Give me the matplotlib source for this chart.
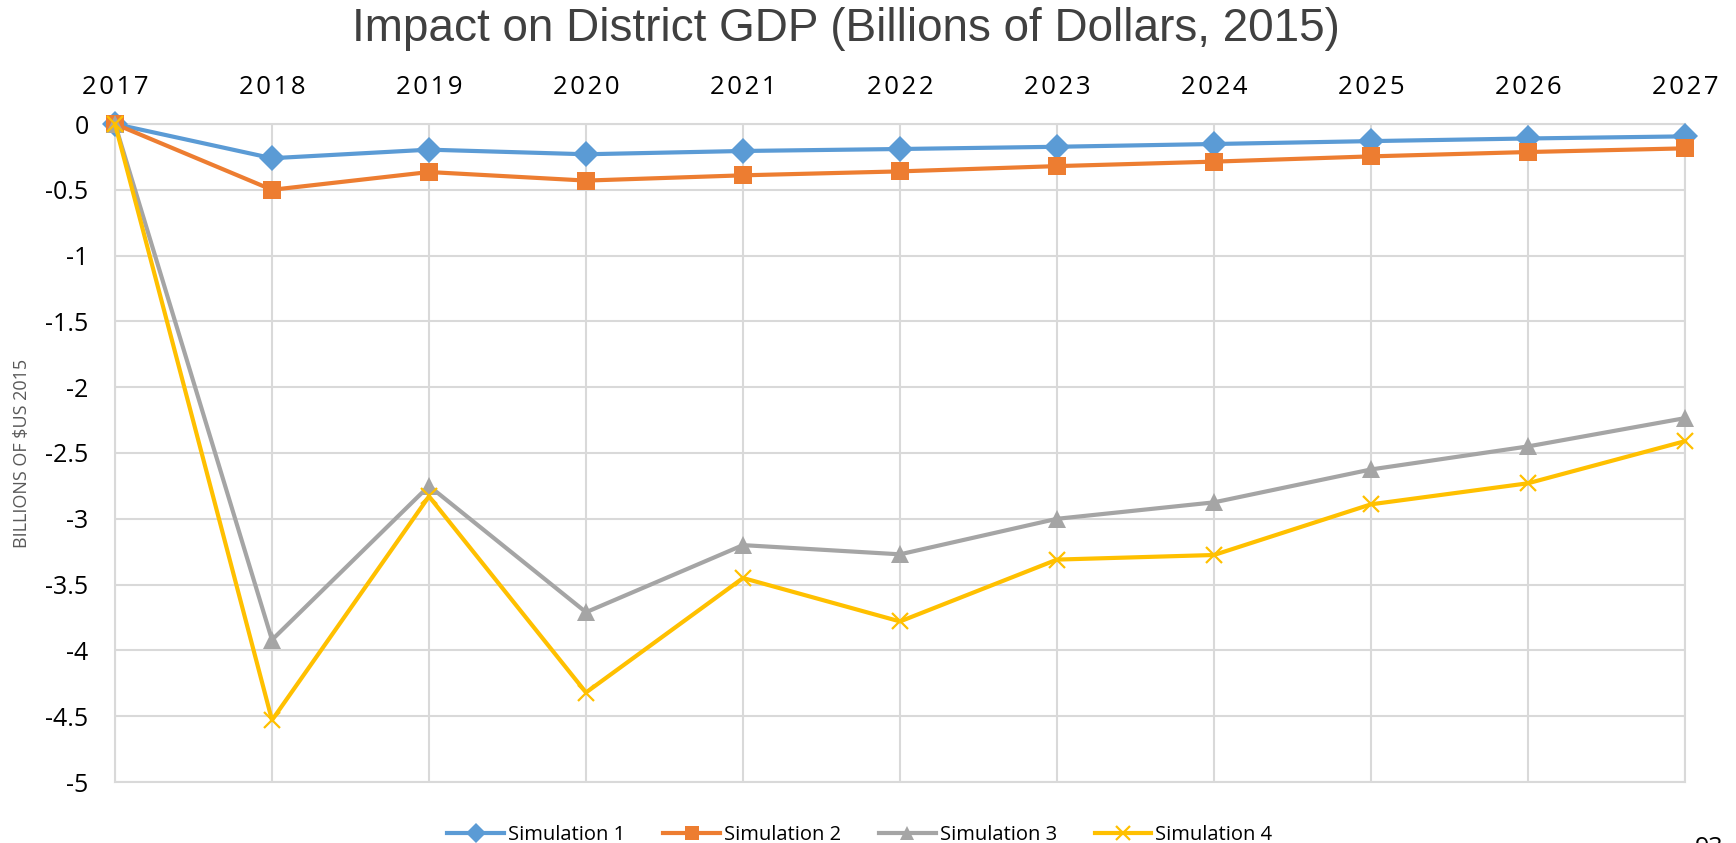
import matplotlib
matplotlib.use("Agg")
import matplotlib.pyplot as plt

years = [2017, 2018, 2019, 2020, 2021, 2022, 2023, 2024, 2025, 2026, 2027]
sim1 = [0, -0.26, -0.195, -0.23, -0.205, -0.19, -0.173, -0.152, -0.13, -0.11, -0.094]
sim2 = [0, -0.50, -0.365, -0.43, -0.39, -0.36, -0.32, -0.286, -0.246, -0.213, -0.185]
sim3 = [0, -3.92, -2.75, -3.71, -3.20, -3.27, -3.00, -2.875, -2.625, -2.45, -2.235]
sim4 = [0, -4.53, -2.83, -4.32, -3.45, -3.78, -3.31, -3.275, -2.89, -2.73, -2.41]
series_names = ["Simulation 1", "Simulation 2", "Simulation 3", "Simulation 4"]
yticks = [0, -0.5, -1, -1.5, -2, -2.5, -3, -3.5, -4, -4.5, -5]
ytick_labels = ["0", "-0.5", "-1", "-1.5", "-2", "-2.5", "-3", "-3.5", "-4", "-4.5", "-5"]
title = "Impact on District GDP (Billions of Dollars, 2015)"
ylabel = "BILLIONS OF $US 2015"

FONT = ["Open Sans", "DejaVu Sans"]
plt.rcParams["font.family"] = FONT

W, H = 1736, 843
fig = plt.figure(figsize=(W / 100, H / 100), dpi=100)
ax = fig.add_axes([115 / W, 1 - 782 / H, 1570 / W, 658 / H])

colors = ["#5B9BD5", "#ED7D31", "#A5A5A5", "#FFC000"]
markers = ["D", "s", "^", "x"]
msizes = [13, 13, 13, 12]
data = [sim1, sim2, sim3, sim4]
for i, (vals, name) in enumerate(zip(data, series_names)):
    ax.plot(years, vals, color=colors[i], lw=3.0, marker=markers[i],
            ms=msizes[i], mew=1.6 if markers[i] == "x" else 0,
            mec=colors[i], mfc=colors[i], label=name, zorder=3 + i,
            clip_on=False)

ax.set_xlim(2017, 2027)
ax.set_ylim(-5, 0)
ax.set_xticks(years)
ax.set_xticklabels(["\u200a".join(str(y)) for y in years])
ax.set_yticks(yticks)
ax.set_yticklabels(ytick_labels)
ax.xaxis.tick_top()
ax.tick_params(axis="x", length=0, pad=17, labelsize=18.5, labelcolor="#000000")
ax.tick_params(axis="y", length=0, pad=19, labelsize=18, labelcolor="#000000")
ax.grid(True, color="#d9d9d9", lw=1.5, zorder=0)
ax.set_axisbelow(True)
for s in ax.spines.values():
    s.set_color("#d9d9d9")
    s.set_linewidth(1.5)

fig.text(846 / W, 1 - 41 / H, title, ha="center", va="baseline",
         fontsize=33, color="#404040",
         family=["Liberation Sans Narrow", "Liberation Sans", "DejaVu Sans"])

fig.text(22 / W, 1 - 453 / H, ylabel, rotation=90, ha="center", va="center",
         fontsize=13, color="#595959")

leg = fig.legend(loc="center", bbox_to_anchor=(860 / W, 1 - 835 / H), ncol=4,
                 frameon=False, fontsize=14.5, handlelength=2.8,
                 handletextpad=0.2, columnspacing=1.9, markerscale=0.8)

fig.text(1695 / W, 1 - 836 / H, "93", ha="left", va="top", fontsize=18,
         color="#000000")

fig.savefig("out.png", dpi=100)
